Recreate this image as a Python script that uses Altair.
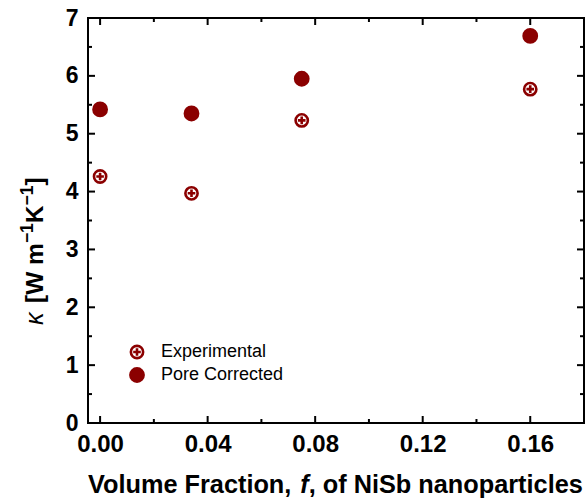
import altair as alt
import pandas as pd

# ---- data ----
fraction = [0.0, 0.034, 0.075, 0.160]
experimental = [4.26, 3.97, 5.23, 5.77]
pore_corrected = [5.42, 5.35, 5.95, 6.69]
series_names = ["Experimental", "Pore Corrected"]

x_major = [0.00, 0.04, 0.08, 0.12, 0.16]
x_minor = [0.02, 0.06, 0.10, 0.14]
y_major = [0, 1, 2, 3, 4, 5, 6, 7]
y_minor = [0.5, 1.5, 2.5, 3.5, 4.5, 5.5, 6.5]

# axis titles, split into pieces so that symbols can be italic / superscript
x_title_parts = ["Volume Fraction,", "f", ", of NiSb nanoparticles"]
y_title_symbol = "κ"
y_title_parts = ["[W m", "−1", "K", "−1", "]"]

RED = "#8B0000"
FONT = "Liberation Sans"
W, H = 496, 405

circle_plus = "M-1,0A1,1 0 1,0 1,0A1,1 0 1,0 -1,0ZM-0.62,0L0.62,0M0,-0.62L0,0.62"
SHAPES = [circle_plus, "circle"]
FILLS = ["white", RED]
SIZES = [150, 175]

xscale = alt.Scale(domain=[-0.0045, 0.18], nice=False, zero=False)
yscale = alt.Scale(domain=[0, 7], nice=False)

x_axis = alt.Axis(values=x_major, format=".2f", tickSize=0, domain=False, grid=False,
                  labelFont=FONT, labelFontWeight="bold", labelFontSize=24,
                  labelColor="black", labelPadding=9, labelFlush=False, title=None)
y_axis = alt.Axis(values=y_major, format="d", tickSize=0, domain=False, grid=False,
                  labelFont=FONT, labelFontWeight="bold", labelFontSize=23,
                  labelColor="black", labelPadding=10, labelFlush=False, title=None)

layers = []

def xticks(vals, length, top):
    d = pd.DataFrame({"v": vals})
    y, y2 = (0, length) if top else (H, H - length)
    return alt.Chart(d).mark_rule(color="black", strokeWidth=2).encode(
        x=alt.X("v:Q", scale=xscale, axis=x_axis), y=alt.value(y), y2=alt.value(y2))

def yticks(vals, length, right):
    d = pd.DataFrame({"v": vals})
    x, x2 = (W, W - length) if right else (0, length)
    return alt.Chart(d).mark_rule(color="black", strokeWidth=2).encode(
        y=alt.Y("v:Q", scale=yscale, axis=y_axis), x=alt.value(x), x2=alt.value(x2))

layers += [
    xticks(x_major, 7, False), xticks(x_minor, 4, False),
    xticks(x_major, 7, True), xticks(x_minor, 4, True),
    yticks(y_major, 7, False), yticks(y_minor, 4, False),
    yticks(y_major, 7, True), yticks(y_minor, 4, True),
]

# data points, one layer per series
for name, vals, shp, fill, size in zip(series_names, [experimental, pore_corrected], SHAPES, FILLS, SIZES):
    d = pd.DataFrame({"f": fraction, "k": vals})
    layers.append(
        alt.Chart(d).mark_point(shape=shp, fill=fill, stroke=RED, strokeWidth=2.6,
                                opacity=1, fillOpacity=1, size=size).encode(
            x=alt.X("f:Q", scale=xscale, axis=x_axis),
            y=alt.Y("k:Q", scale=yscale, axis=y_axis))
    )

# legend (inside the plot, lower left)
leg_y = [334, 357]
for name, shp, fill, size, ly in zip(series_names, SHAPES, FILLS, SIZES, leg_y):
    d = pd.DataFrame({"label": [name]})
    layers.append(
        alt.Chart(d).mark_point(shape=shp, fill=fill, stroke=RED, strokeWidth=2.6,
                                opacity=1, fillOpacity=1, size=size).encode(
            x=alt.value(49), y=alt.value(ly))
    )
    layers.append(
        alt.Chart(d).mark_text(align="left", baseline="middle", font=FONT, fontSize=18,
                               color="black").encode(
            x=alt.value(73), y=alt.value(ly), text="label:N")
    )

def label(txt, x, y, size, weight="bold", style="normal", angle=0):
    d = pd.DataFrame({"t": [txt]})
    return alt.Chart(d).mark_text(align="left", baseline="alphabetic", font=FONT,
                                  fontSize=size, fontWeight=weight, fontStyle=style,
                                  angle=angle, color="black").encode(
        x=alt.value(x), y=alt.value(y), text="t:N")

# x-axis title
XT = 25.3
xt_y = 475
layers.append(label(x_title_parts[0], 0, xt_y, XT))
layers.append(label(x_title_parts[1], 8.391 * XT, xt_y, XT, style="italic"))
layers.append(label(x_title_parts[2], 8.724 * XT, xt_y, XT))

# y-axis title (rotated, reading upward)
YT, YS = 24.5, 17.5
base_x, sup_x = -45, -55
layers.append(label(y_title_symbol, base_x, 307, 25, weight="normal", style="italic", angle=270))
pos = 285
widths = [2.444 * YT, 1.14 * YS, 0.722 * YT, 1.14 * YS, 0.333 * YT]
sizes = [YT, YS, YT, YS, YT]
xs = [base_x, sup_x, base_x, sup_x, base_x]
for txt, w, s, xx in zip(y_title_parts, widths, sizes, xs):
    layers.append(label(txt, xx, pos, s, angle=270))
    pos -= w

chart = alt.layer(*layers).properties(
    width=W, height=H,
    autosize=alt.AutoSizeParams(type="none"),
    padding={"left": 88, "top": 18, "right": 1, "bottom": 81},
).configure_view(stroke="black", strokeWidth=2)

chart.save("out.html", embed_options={"renderer": "svg", "actions": False})
